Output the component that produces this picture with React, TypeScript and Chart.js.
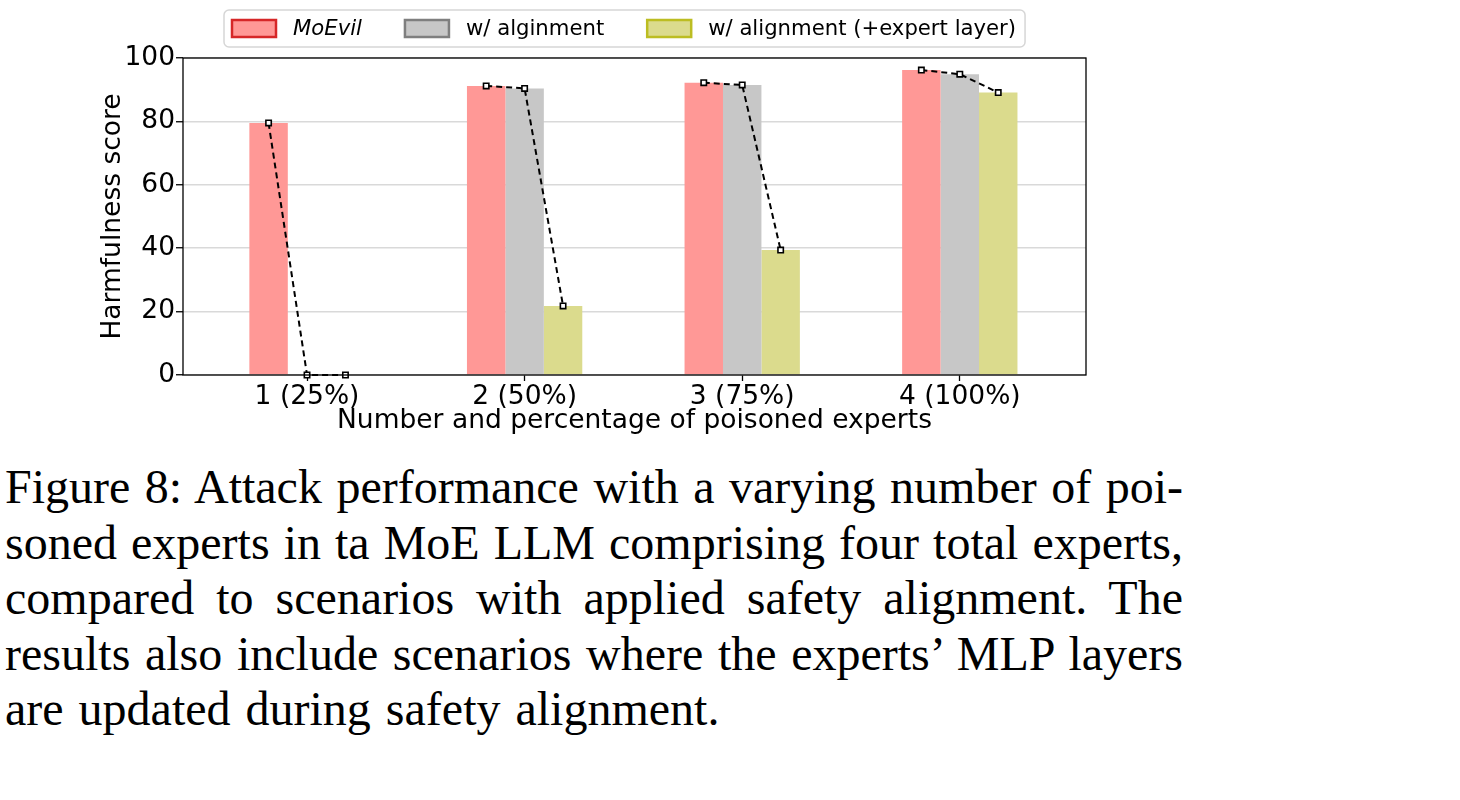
import React, { useEffect, useRef } from "react";
import { Chart, registerables } from "chart.js";

Chart.register(...registerables);

// ---------- data ----------
const CATEGORIES = ["1 (25%)", "2 (50%)", "3 (75%)", "4 (100%)"];
const SERIES_LABELS = ["MoEvil", "w/ alginment", "w/ alignment (+expert layer)"];
const MOEVIL = [79.5, 91.2, 92.2, 96.2];
const ALIGNMENT = [0, 90.4, 91.5, 94.9];
const ALIGNMENT_EXPERT = [0, 21.8, 39.4, 89.1];
const Y_TICKS = [0, 20, 40, 60, 80, 100];
const X_TITLE = "Number and percentage of poisoned experts";
const Y_TITLE = "Harmfulness score";
const CAPTION_LINES = [
  "Figure 8: Attack performance with a varying number of poi-",
  "soned experts in ta MoE LLM comprising four total experts,",
  "compared to scenarios with applied safety alignment. The",
  "results also include scenarios where the experts’ MLP layers",
  "are updated during safety alignment.",
];

// ---------- style ----------
const FILLS = ["#ff9896", "#c7c7c7", "#dbdb8d"];
const EDGES = ["#d62728", "#7f7f7f", "#bcbd22"];
const GROUP = 0.53; // fraction of category spacing used by a group of bars
const FONT = '"DejaVu Sans", sans-serif';

const SERIES = [MOEVIL, ALIGNMENT, ALIGNMENT_EXPERT];

const boxLegend = {
  id: "boxLegend",
  afterDraw(chart: any) {
    const ctx = chart.ctx as CanvasRenderingContext2D;
    const left = 224;
    const top = 10;
    const h = 37;
    const padL = 8;
    const padR = 9;
    const boxW = 44;
    const boxH = 17;
    const gap = 17;
    const itemGap = 43;
    ctx.save();
    const fonts = SERIES_LABELS.map((_, i) => (i === 0 ? `italic 21.2px ${FONT}` : `21.2px ${FONT}`));
    const widths = SERIES_LABELS.map((t, i) => {
      ctx.font = fonts[i];
      return ctx.measureText(t).width;
    });
    let total = padL + padR;
    widths.forEach((w, i) => {
      total += boxW + gap + w + (i > 0 ? itemGap : 0);
    });
    const r = 5;
    ctx.beginPath();
    ctx.moveTo(left + r, top);
    ctx.lineTo(left + total - r, top);
    ctx.arcTo(left + total, top, left + total, top + r, r);
    ctx.lineTo(left + total, top + h - r);
    ctx.arcTo(left + total, top + h, left + total - r, top + h, r);
    ctx.lineTo(left + r, top + h);
    ctx.arcTo(left, top + h, left, top + h - r, r);
    ctx.lineTo(left, top + r);
    ctx.arcTo(left, top, left + r, top, r);
    ctx.closePath();
    ctx.fillStyle = "rgba(255,255,255,0.8)";
    ctx.fill();
    ctx.strokeStyle = "#d6d6d6";
    ctx.lineWidth = 1.5;
    ctx.stroke();
    let x = left + padL;
    const cy = top + h / 2;
    SERIES_LABELS.forEach((t, i) => {
      ctx.fillStyle = FILLS[i];
      ctx.fillRect(x, cy - boxH / 2, boxW, boxH);
      ctx.strokeStyle = EDGES[i];
      ctx.lineWidth = 2.5;
      ctx.strokeRect(x, cy - boxH / 2, boxW, boxH);
      ctx.fillStyle = "#000";
      ctx.font = fonts[i];
      ctx.textBaseline = "middle";
      ctx.textAlign = "left";
      ctx.fillText(t, x + boxW + gap, cy + 1);
      x += boxW + gap + widths[i] + itemGap;
    });
    ctx.restore();
  },
};

const frame = {
  id: "frame",
  afterDraw(chart: any) {
    const { left, top, right, bottom } = chart.chartArea;
    const ctx = chart.ctx as CanvasRenderingContext2D;
    ctx.save();
    ctx.strokeStyle = "#000";
    ctx.lineWidth = 1.3;
    ctx.strokeRect(left, top, right - left, bottom - top);
    ctx.restore();
  },
};

export default function App() {
  const ref = useRef<HTMLCanvasElement | null>(null);

  useEffect(() => {
    if (!ref.current) return;
    const offset = GROUP / SERIES.length;
    const barSets = SERIES.map((vals, k) => ({
      type: "bar" as const,
      label: SERIES_LABELS[k],
      data: vals.map((v, i) => ({ x: i, y: v })),
      backgroundColor: FILLS[k],
      borderWidth: 0,
      categoryPercentage: GROUP,
      barPercentage: 1.0,
      order: 2,
    }));
    const lineSets = CATEGORIES.map((c, i) => ({
      type: "line" as const,
      label: "trend " + c,
      data: SERIES.map((vals, k) => ({ x: i + (k - 1) * offset, y: vals[i] })),
      borderColor: "#000",
      borderWidth: 2,
      borderDash: [6, 4],
      pointStyle: "rect",
      pointRadius: 3.8,
      pointBorderWidth: 1.6,
      pointBackgroundColor: "#fff",
      pointBorderColor: "#000",
      fill: false,
      tension: 0,
      clip: false,
      order: 0,
    }));

    const chart = new Chart(ref.current, {
      type: "bar",
      data: { datasets: [...barSets, ...lineSets] as any },
      options: {
        animation: false,
        responsive: false,
        devicePixelRatio: 1,
        layout: { padding: { left: 0, top: 58, right: 14, bottom: 0 } },
        plugins: { legend: { display: false }, tooltip: { enabled: false } },
        scales: {
          x: {
            type: "linear",
            offset: false,
            min: -0.57,
            max: 3.58,
            afterBuildTicks: (s: any) => {
              s.ticks = CATEGORIES.map((_, i) => ({ value: i }));
            },
            afterFit: (s: any) => {
              s.height = 65;
            },
            ticks: {
              callback: (v: any) => CATEGORIES[v] ?? "",
              font: { family: FONT, size: 26.5 },
              color: "#000",
              padding: 0,
              maxRotation: 0,
              autoSkip: false,
            },
            grid: {
              offset: false,
              drawOnChartArea: false,
              tickLength: 6,
              tickColor: "#000",
              tickWidth: 1.3,
            },
            border: { display: false },
            title: {
              display: true,
              text: X_TITLE,
              font: { family: FONT, size: 26.5 },
              color: "#000",
              padding: { top: 0, bottom: 3 },
            },
          },
          y: {
            type: "linear",
            min: 0,
            max: 100,
            afterBuildTicks: (s: any) => {
              s.ticks = Y_TICKS.map((v) => ({ value: v }));
            },
            afterFit: (s: any) => {
              s.width = 183;
            },
            ticks: {
              font: { family: FONT, size: 26.5 },
              color: "#000",
              padding: 1,
            },
            grid: {
              color: "#d9d9d9",
              lineWidth: 1.5,
              tickLength: 7,
              tickColor: "#000",
              tickWidth: 1.3,
            },
            border: { display: false },
            title: {
              display: true,
              text: Y_TITLE,
              font: { family: FONT, size: 26.5 },
              color: "#000",
              padding: { top: 97, bottom: 0 },
            },
          },
        },
      },
      plugins: [frame, boxLegend],
    });
    return () => chart.destroy();
  }, []);

  return (
    <div
      style={{
        position: "absolute",
        left: 0,
        top: 0,
        width: 1460,
        height: 800,
        background: "#fff",
        overflow: "hidden",
      }}
    >
      <canvas
        ref={ref}
        width={1100}
        height={440}
        style={{ position: "absolute", left: 0, top: 0, width: 1100, height: 440 }}
      />
      <div
        style={{
          position: "absolute",
          left: 5,
          top: 459,
          width: 1178,
          fontFamily: '"Liberation Serif", "Times New Roman", serif',
          fontSize: 48,
          lineHeight: "55.5px",
          color: "#000",
        }}
      >
        {CAPTION_LINES.map((line, i) => {
          const last = i === CAPTION_LINES.length - 1;
          return (
            <div
              key={i}
              style={{
                whiteSpace: "nowrap",
                textAlign: "justify",
                textAlignLast: last ? "left" : "justify",
                wordSpacing: last ? "3px" : undefined,
              }}
            >
              {line}
            </div>
          );
        })}
      </div>
    </div>
  );
}
